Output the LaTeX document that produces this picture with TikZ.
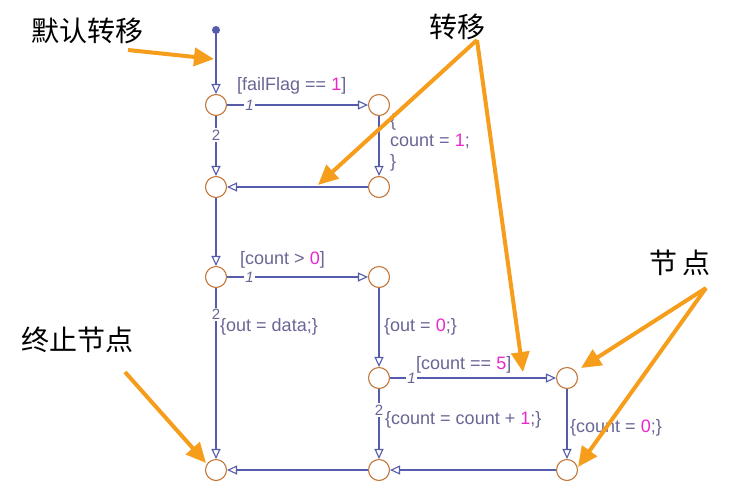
\documentclass[tikz,border=0pt]{standalone}
\usepackage{fontspec}
\setmainfont{Liberation Sans}
\newfontfamily\cjk{Noto Sans CJK SC}
\usetikzlibrary{arrows.meta}
\definecolor{lineblue}{RGB}{85,92,172}
\definecolor{txtgray}{RGB}{105,102,150}
\definecolor{nummag}{RGB}{232,40,205}
\definecolor{junc}{RGB}{196,120,60}
\definecolor{anno}{RGB}{246,158,28}
\newcommand{\mg}[1]{\textcolor{nummag}{#1}}
\begin{document}
\begin{tikzpicture}[x=1pt,y=-1pt,
  junction/.style={circle,draw=junc,line width=1.1pt,minimum size=21pt,inner sep=0pt,fill=white},
  trans/.style={draw=lineblue,line width=1.1pt,-{Triangle[open,length=10pt,width=9pt]}},
  lbl/.style={text=txtgray,font=\fontsize{18}{21}\selectfont,inner sep=0pt},
  ord/.style={text=txtgray,font=\fontsize{15}{17}\selectfont,fill=white,inner sep=1.5pt},
  annot/.style={font=\cjk\fontsize{28}{32}\selectfont,inner sep=0pt},
  annarrow/.style={draw=anno,line width=4pt,-{Triangle[length=20pt,width=18pt]}}]
\fill[white] (0,0) rectangle (730,488);
\useasboundingbox (0,0) rectangle (730,488);
% start dot
\fill[lineblue] (216,30) circle (4pt);
\coordinate (s) at (216,30);
% junctions
\node[junction] (j1) at (216,105) {};
\node[junction] (j2) at (379,105) {};
\node[junction] (j3) at (216,187) {};
\node[junction] (j4) at (379,187) {};
\node[junction] (j5) at (216,277) {};
\node[junction] (j6) at (379,277) {};
\node[junction] (j7) at (379,378) {};
\node[junction] (j8) at (567,378) {};
\node[junction] (j9) at (216,470) {};
\node[junction] (j10) at (379,470) {};
\node[junction] (j11) at (567,470) {};
% transitions
\draw[trans] (s) -- (j1);
\draw[trans] (j1) -- (j2) node[ord,pos=0.16] {\itshape 1};
\draw[trans] (j1) -- (j3) node[ord,pos=0.32] {2};
\draw[trans] (j2) -- (j4);
\draw[trans] (j4) -- (j3);
\draw[trans] (j3) -- (j5);
\draw[trans] (j5) -- (j6) node[ord,pos=0.16] {\itshape 1};
\draw[trans] (j5) -- (j9) node[ord,pos=0.155] {2};
\draw[trans] (j6) -- (j7);
\draw[trans] (j7) -- (j8) node[ord,pos=0.13] {\itshape 1};
\draw[trans] (j7) -- (j10) node[ord,pos=0.3] {2};
\draw[trans] (j8) -- (j11);
\draw[trans] (j11) -- (j10);
\draw[trans] (j10) -- (j9);
% labels
\node[lbl,anchor=base west] (l1) at (237,90) {[failFlag == \mg{1}]};
\node[lbl,anchor=base west] (l2) at (390,126) {\{};
\node[lbl,anchor=base west] (l3) at (390,146.5) {count = \mg{1};};
\node[lbl,anchor=base west] (l4) at (390,167) {\}};
\node[lbl,anchor=base west] (l5) at (240,264) {[count > \mg{0}]};
\node[lbl,anchor=base west] (l6) at (220,331) {\{out = data;\}};
\node[lbl,anchor=base west] (l7) at (384,331) {\{out = \mg{0};\}};
\node[lbl,anchor=base west] (l8) at (416,369) {[count == \mg{5}]};
\node[lbl,anchor=base west] (l9) at (385,424) {\{count = count + \mg{1};\}};
\node[lbl,anchor=base west] (l10) at (570,432) {\{count = \mg{0};\}};
% annotations
\node[annot] (a1) at (87,31) {默认转移};
\node[annot] (a2) at (457,27) {转移};
\node[annot] (a3) at (680,263) {节\,点};
\node[annot] (a4) at (77,340) {终止节点};
\coordinate (a1s) at (128,50);
\coordinate (a1e) at (214,59);
\coordinate (a2s) at (477,40);
\coordinate (a2e) at (318,185);
\coordinate (a2f) at (523,372);
\coordinate (a3s) at (706,288);
\coordinate (a3e) at (581,368);
\coordinate (a3f) at (578,467);
\coordinate (a4s) at (125,372);
\coordinate (a4e) at (206,463);
\draw[annarrow] (a1s) -- (a1e);
\draw[annarrow] (a2s) -- (a2e);
\draw[annarrow] (a2s) -- (a2f);
\draw[annarrow] (a3s) -- (a3e);
\draw[annarrow] (a3s) -- (a3f);
\draw[annarrow] (a4s) -- (a4e);
\end{tikzpicture}
\end{document}
